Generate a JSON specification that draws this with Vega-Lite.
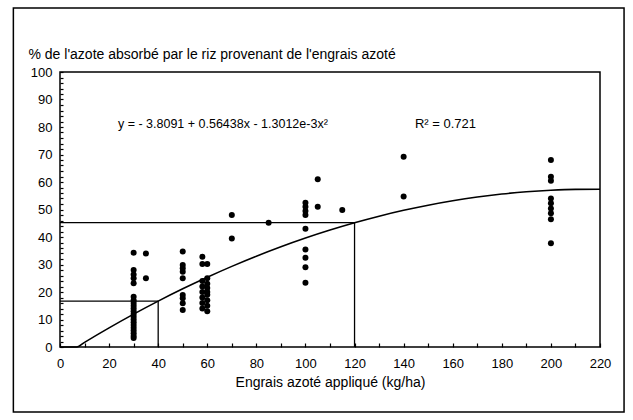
{
  "$schema": "https://vega.github.io/schema/vega-lite/v6.json",
  "width": 540,
  "height": 275,
  "autosize": {"type": "none"},
  "padding": {"left": 60, "top": 72, "right": 33, "bottom": 73},
  "background": "white",
  "config": {
    "view": {"stroke": "black", "strokeWidth": 1.5},
    "axis": {
      "labelFont": "Liberation Sans",
      "labelFontSize": 13,
      "labelColor": "black",
      "labelOverlap": false,
      "labelBound": false,
      "labelFlush": false,
      "titleFont": "Liberation Sans",
      "titleFontSize": 14,
      "titleFontWeight": "normal",
      "titleColor": "black",
      "tickColor": "black",
      "tickWidth": 1.2,
      "domain": false,
      "grid": false
    }
  },
  "datasets": {
    "pts": [
      {"n": 30, "p": 34.3}, {"n": 30, "p": 28}, {"n": 30, "p": 26.4}, {"n": 30, "p": 25}, {"n": 30, "p": 23.2},
      {"n": 30, "p": 18.3}, {"n": 30, "p": 17}, {"n": 30, "p": 16}, {"n": 30, "p": 15}, {"n": 30, "p": 14},
      {"n": 30, "p": 13}, {"n": 30, "p": 12}, {"n": 30, "p": 11}, {"n": 30, "p": 10}, {"n": 30, "p": 9},
      {"n": 30, "p": 8}, {"n": 30, "p": 7}, {"n": 30, "p": 6}, {"n": 30, "p": 5}, {"n": 30, "p": 4}, {"n": 30, "p": 3.3},
      {"n": 35, "p": 34}, {"n": 35, "p": 25},
      {"n": 50, "p": 34.7}, {"n": 50, "p": 29.8}, {"n": 50, "p": 28.6}, {"n": 50, "p": 27.4}, {"n": 50, "p": 25},
      {"n": 50, "p": 18.9}, {"n": 50, "p": 17.7}, {"n": 50, "p": 15.9}, {"n": 50, "p": 13.5},
      {"n": 58, "p": 32.8}, {"n": 58, "p": 30.2}, {"n": 58, "p": 24}, {"n": 58, "p": 22}, {"n": 58, "p": 20},
      {"n": 58, "p": 18}, {"n": 58, "p": 16}, {"n": 58, "p": 14},
      {"n": 60, "p": 30.2}, {"n": 60, "p": 25}, {"n": 60, "p": 23}, {"n": 60, "p": 21.5}, {"n": 60, "p": 20},
      {"n": 60, "p": 19}, {"n": 60, "p": 17}, {"n": 60, "p": 15}, {"n": 60, "p": 13},
      {"n": 70, "p": 48}, {"n": 70, "p": 39.5},
      {"n": 85, "p": 45.2},
      {"n": 100, "p": 52.5}, {"n": 100, "p": 51}, {"n": 100, "p": 49.5}, {"n": 100, "p": 48}, {"n": 100, "p": 43},
      {"n": 100, "p": 35.5}, {"n": 100, "p": 32.5}, {"n": 100, "p": 29}, {"n": 100, "p": 23.4},
      {"n": 105, "p": 61}, {"n": 105, "p": 51},
      {"n": 115, "p": 49.8},
      {"n": 140, "p": 69.2}, {"n": 140, "p": 54.7},
      {"n": 200, "p": 68}, {"n": 200, "p": 61.9}, {"n": 200, "p": 60.5}, {"n": 200, "p": 54}, {"n": 200, "p": 52.3},
      {"n": 200, "p": 50.4}, {"n": 200, "p": 48.6}, {"n": 200, "p": 46.5}, {"n": 200, "p": 37.7}
    ],
    "curve": [
      {"n": 0, "p": 0}, {"n": 6.85, "p": 0}, {"n": 10, "p": 1.705}, {"n": 20, "p": 6.958},
      {"n": 30, "p": 11.951}, {"n": 40, "p": 16.684}, {"n": 50, "p": 21.157}, {"n": 60, "p": 25.369},
      {"n": 70, "p": 29.322}, {"n": 80, "p": 33.014}, {"n": 90, "p": 36.445}, {"n": 100, "p": 39.617},
      {"n": 110, "p": 42.527}, {"n": 120, "p": 45.179}, {"n": 130, "p": 47.570}, {"n": 140, "p": 49.701},
      {"n": 150, "p": 51.571}, {"n": 160, "p": 53.181}, {"n": 170, "p": 54.531}, {"n": 180, "p": 55.621},
      {"n": 190, "p": 56.450}, {"n": 200, "p": 57.019}, {"n": 210, "p": 57.328}, {"n": 220, "p": 57.376}
    ],
    "refs": [
      {"n": 0, "n2": 40, "p": 16.7, "p2": 16.7},
      {"n": 40, "n2": 40, "p": 0, "p2": 16.7},
      {"n": 0, "n2": 120, "p": 45.2, "p2": 45.2},
      {"n": 120, "n2": 120, "p": 0, "p2": 45.2}
    ]
  },
  "layer": [
    {
      "data": {"name": "pts"},
      "mark": {"type": "circle", "size": 36, "color": "black", "opacity": 1},
      "encoding": {
        "x": {
          "field": "n", "type": "quantitative",
          "scale": {"domain": [0, 220], "nice": false},
          "title": "Engrais azoté appliqué (kg/ha)",
          "axis": {
            "values": [0, 10, 20, 30, 40, 50, 60, 70, 80, 90, 100, 110, 120, 130, 140, 150, 160, 170, 180, 190, 200, 210, 220],
            "tickCount": 100,
            "labelExpr": "datum.value % 20 === 0 ? datum.label : ''",
            "labelOverlap": false,
            "tickSize": -4,
            "labelPadding": 14,
            "titlePadding": 5
          }
        },
        "y": {
          "field": "p", "type": "quantitative",
          "scale": {"domain": [0, 100], "nice": false},
          "title": "% de l'azote absorbé par le riz provenant de l'engrais azoté",
          "axis": {
            "values": [0, 2, 4, 6, 8, 10, 12, 14, 16, 18, 20, 22, 24, 26, 28, 30, 32, 34, 36, 38, 40, 42, 44, 46, 48, 50, 52, 54, 56, 58, 60, 62, 64, 66, 68, 70, 72, 74, 76, 78, 80, 82, 84, 86, 88, 90, 92, 94, 96, 98, 100],
            "tickCount": 100,
            "labelExpr": "datum.value % 10 === 0 ? datum.label : ''",
            "labelOverlap": false,
            "tickSize": -3,
            "labelPadding": 11,
            "titleAngle": 0,
            "titleAlign": "left",
            "titleBaseline": "bottom",
            "titleX": -32,
            "titleY": -11,
            "titleFontSize": 14
          }
        }
      }
    },
    {
      "data": {"values": [{}]},
      "mark": {"type": "rect", "filled": false, "stroke": "black", "strokeWidth": 1.5, "clip": false},
      "encoding": {
        "x": {"datum": -19, "type": "quantitative"},
        "x2": {"datum": 229.8},
        "y": {"datum": 123.3, "type": "quantitative"},
        "y2": {"datum": -23.6}
      }
    },
    {
      "data": {"name": "refs"},
      "mark": {"type": "rule", "color": "black", "strokeWidth": 1.3},
      "encoding": {
        "x": {"field": "n", "type": "quantitative"},
        "x2": {"field": "n2"},
        "y": {"field": "p", "type": "quantitative"},
        "y2": {"field": "p2"}
      }
    },
    {
      "data": {"name": "curve"},
      "mark": {"type": "line", "color": "black", "strokeWidth": 1.6, "interpolate": "monotone"},
      "encoding": {
        "x": {"field": "n", "type": "quantitative"},
        "y": {"field": "p", "type": "quantitative"}
      }
    },
    {
      "data": {"values": [{}]},
      "mark": {"type": "text", "text": "y = - 3.8091 + 0.56438x - 1.3012e-3x²", "align": "left", "baseline": "middle", "font": "Liberation Sans", "fontSize": 12.5, "color": "black"},
      "encoding": {
        "x": {"datum": 23.6, "type": "quantitative"},
        "y": {"datum": 81, "type": "quantitative"}
      }
    },
    {
      "data": {"values": [{}]},
      "mark": {"type": "text", "text": "R² = 0.721", "align": "left", "baseline": "middle", "font": "Liberation Sans", "fontSize": 13, "color": "black"},
      "encoding": {
        "x": {"datum": 144.6, "type": "quantitative"},
        "y": {"datum": 81, "type": "quantitative"}
      }
    }
  ]
}
